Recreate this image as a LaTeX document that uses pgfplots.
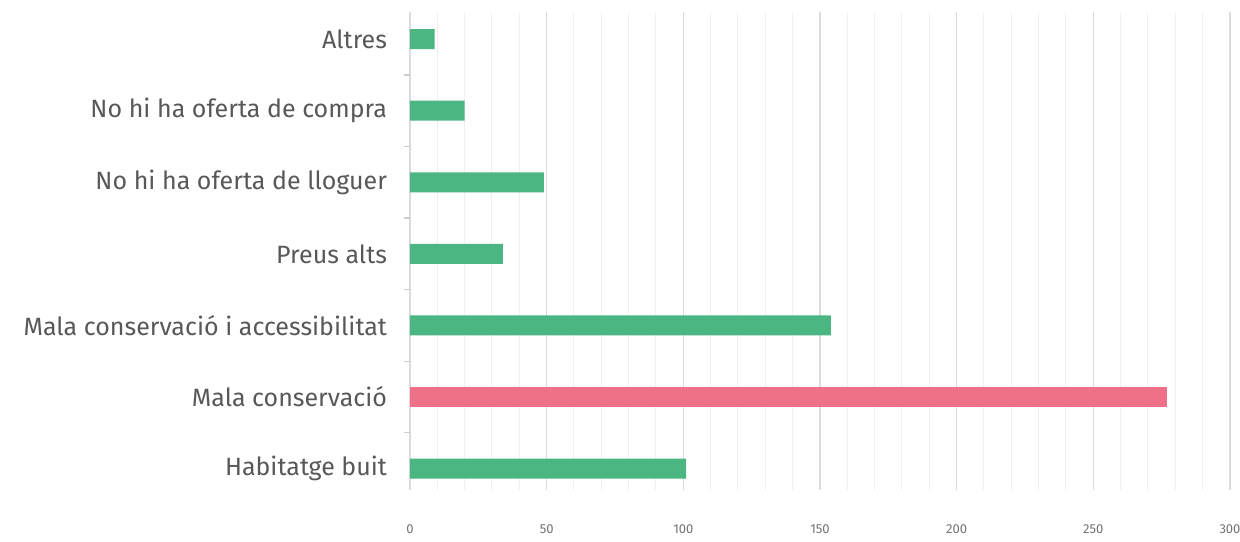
\documentclass[border=0pt]{standalone}
\usepackage{pgfplots}
\pgfplotsset{compat=1.18}
\usepackage{fontspec}
\setmainfont{Fira Sans}
\definecolor{bargreen}{RGB}{76,182,131}
\definecolor{barpink}{RGB}{238,113,137}
\definecolor{labgray}{RGB}{88,88,88}
\begin{document}
\begin{tikzpicture}
\begin{axis}[
  scale only axis,
  width=410bp, height=239bp,
  at={(0,0)}, anchor=south west,
  xmin=0, xmax=300,
  ymin=-0.3, ymax=6.38,
  xbar, bar width=10bp,
  xtick={0,50,...,300},
  minor xtick={10,20,...,290},
  xmajorgrids, xminorgrids,
  major grid style={draw=black!14, line width=0.6pt},
  minor grid style={draw=black!6, line width=0.5pt},
  ytick={0,...,6},
  yticklabels={Habitatge buit, Mala conservació, Mala conservació i accessibilitat, Preus alts, No hi ha oferta de lloguer, No hi ha oferta de compra, Altres},
  minor ytick={0.5,1.5,...,5.5},
  ytick pos=left,
  major tick length=0pt,
  minor y tick style={draw=black!20, line width=0.6pt},
  minor tick length=3bp,
  xtick style={draw=none},
  axis line style={draw=none},
  yticklabel style={font=\fontsize{12.5bp}{14bp}\selectfont, text=labgray, xshift=-8bp},
  xticklabel style={font=\fontsize{6.5bp}{7bp}\selectfont, text=black!55, yshift=-14bp},
  /pgf/number format/assume math mode=true,
  tick align=outside,
]
\addplot[fill=bargreen, draw=none, bar shift=0pt] coordinates {
  (101,0) (154,2) (34,3) (49,4) (20,5) (9,6)
};
\addplot[fill=barpink, draw=none, bar shift=0pt] coordinates {
  (277,1)
};
\end{axis}
\pgfresetboundingbox
\path[use as bounding box] (-205bp,-26bp) rectangle (415bp,245bp);
\end{tikzpicture}
\end{document}
